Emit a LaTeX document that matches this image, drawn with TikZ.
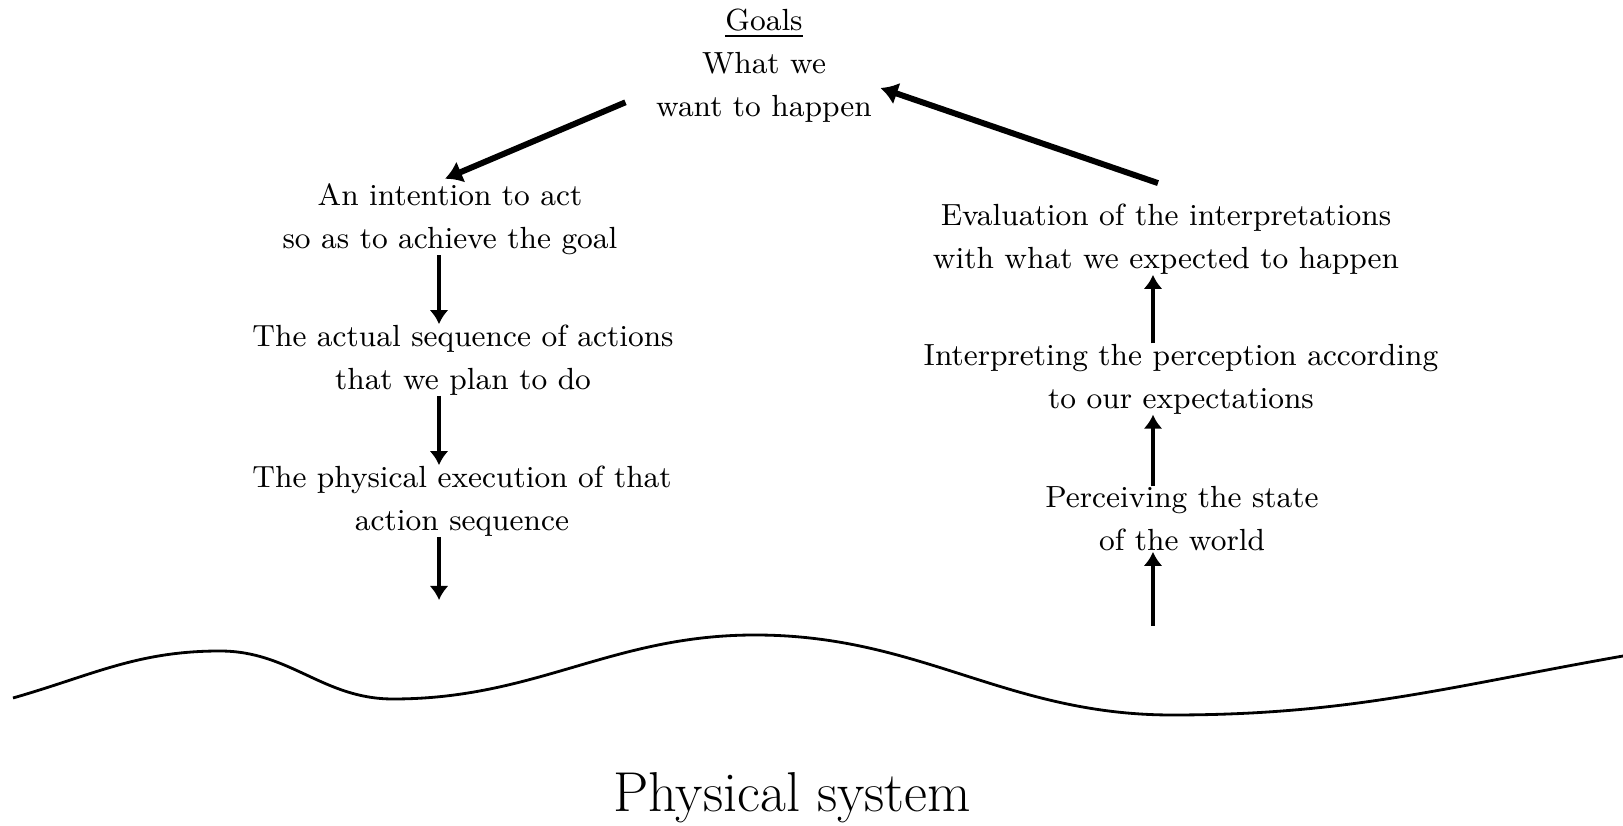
\documentclass[tikz,border=0pt]{standalone}
\usepackage{amsmath,amssymb}
\usepackage{xcolor}
\usepackage{tikz}
\usetikzlibrary{arrows.meta,positioning,calc}
\tikzset{
  stage/.style={align=center,inner sep=0pt,font=\fontsize{8.7}{12.2}\selectfont},
  flow/.style={line width=1.3pt,-{Latex[length=1.4mm,width=1.9mm]}},
  bigflow/.style={line width=1.7pt,-{Latex[length=1.7mm,width=2.3mm]}},
}
\begin{document}
\begin{tikzpicture}
\useasboundingbox (0,0) rectangle (16.23,8.26);
\node[stage] (goal) at (7.64,7.60) {\underline{Goals}\\What we\\want to happen};
% execution side
\node[stage] (intent) at (4.50,6.07) {An intention to act\\so as to achieve the goal};
\node[stage] (plan) at (4.63,4.66) {The actual sequence of actions\\that we plan to do};
\node[stage] (exec) at (4.62,3.25) {The physical execution of that\\action sequence};
% evaluation side
\node[stage] (eval) at (11.66,5.87) {Evaluation of the interpretations\\with what we expected to happen};
\node[stage] (interp) at (11.81,4.47) {Interpreting the perception according\\to our expectations};
\node[stage] (percv) at (11.82,3.07) {Perceiving the state\\of the world};
\coordinate (colL) at (4.39,0);
\coordinate (colR) at (11.53,0);
\coordinate (actEnd) at (4.39,2.26);
\coordinate (perStart) at (11.53,2.00);
% the two big arrows at the top
\draw[bigflow] ($(goal.south west)+(-0.30,0.21)$) -- ($(intent.north)+(-0.05,0.04)$);
\draw[bigflow] ($(eval.north)+(-0.08,0.20)$) -- ($(goal.east)+(0.08,-0.22)$);
% columns
\draw[flow] (intent.south -| colL) -- (plan.north -| colL);
\draw[flow] (plan.south -| colL) -- (exec.north -| colL);
\draw[flow] (exec.south -| colL) -- (actEnd);
\draw[flow] (perStart) -- (percv.south -| colR);
\draw[flow] (percv.north -| colR) -- (interp.south -| colR);
\draw[flow] (interp.north -| colR) -- (eval.south -| colR);
% the world
\draw[line width=0.8pt] (0.13,1.28) to[out=16,in=180] (2.20,1.75) to[out=0,in=180] (3.93,1.27)
  to[out=0,in=180] (7.55,1.91) to[out=0,in=180] (11.72,1.11) to[out=0,in=190] (16.23,1.70);
\node[font=\fontsize{16}{19}\selectfont,anchor=base] (phys) at (7.92,0.14) {Physical system};
\end{tikzpicture}
\end{document}
